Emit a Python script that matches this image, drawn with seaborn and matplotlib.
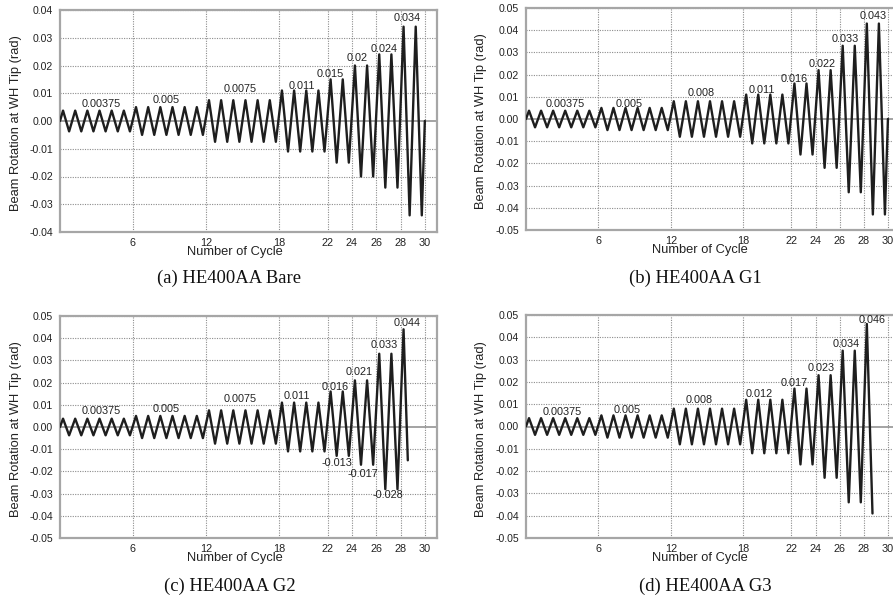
import numpy as np
import pandas as pd
import matplotlib
matplotlib.use("Agg")
import matplotlib.pyplot as plt
import seaborn as sns

# ---------------- data ----------------
counts_full = [6, 6, 6, 4, 2, 2, 2, 2]
counts_last = [6, 6, 6, 4, 2, 2, 2, 1]
counts_trough_last = [6, 6, 6, 4, 2, 2, 2]

# (a) Bare
a_peak_levels = [0.00375, 0.005, 0.0075, 0.011, 0.015, 0.02, 0.024, 0.034]
a_trough_levels = [-0.00375, -0.005, -0.0075, -0.011, -0.015, -0.02, -0.024, -0.034]
a_end = (30.0, 0.0)
a_labels = ["0.00375", "0.005", "0.0075", "0.011", "0.015", "0.02", "0.024", "0.034"]
a_label_x = [3.43, 8.71, 14.8, 19.87, 22.26, 24.4, 26.65, 28.58]
a_label_y = [0.0061, 0.0076, 0.0114, 0.0127, 0.0169, 0.0226, 0.0258, 0.037]

# (b) G1
b_peak_levels = [0.00375, 0.005, 0.008, 0.011, 0.016, 0.022, 0.033, 0.043]
b_trough_levels = [-0.00375, -0.005, -0.008, -0.011, -0.016, -0.022, -0.033, -0.043]
b_end = (30.0, 0.0)
b_labels = ["0.00375", "0.005", "0.008", "0.011", "0.016", "0.022", "0.033", "0.043"]
b_label_x = [3.29, 8.53, 14.5, 19.53, 22.23, 24.58, 26.43, 28.77]
b_label_y = [0.0066, 0.0066, 0.0116, 0.0131, 0.018, 0.0248, 0.0359, 0.0465]

# (c) G2
c_peak_levels = [0.00375, 0.005, 0.0075, 0.011, 0.016, 0.021, 0.033, 0.044]
c_trough_levels = [-0.00375, -0.005, -0.0075, -0.011, -0.013, -0.017, -0.028]
c_end = (28.6, -0.015)
c_labels = ["0.00375", "0.005", "0.0075", "0.011", "0.016", "0.021", "0.033", "0.044",
            "-0.013", "-0.017", "-0.028"]
c_label_x = [3.43, 8.71, 14.8, 19.5, 22.6, 24.6, 26.65, 28.52, 22.8, 24.87, 26.93]
c_label_y = [0.0072, 0.008, 0.0125, 0.0141, 0.0179, 0.0248, 0.0369, 0.047,
             -0.0161, -0.0212, -0.0306]

# (d) G3
d_peak_levels = [0.00375, 0.005, 0.008, 0.012, 0.017, 0.023, 0.034, 0.046]
d_trough_levels = [-0.00375, -0.005, -0.008, -0.012, -0.017, -0.023, -0.034]
d_end = (28.72, -0.039)
d_labels = ["0.00375", "0.005", "0.008", "0.012", "0.017", "0.023", "0.034", "0.046"]
d_label_x = [3.02, 8.36, 14.37, 19.35, 22.2, 24.5, 26.55, 28.65]
d_label_y = [0.0064, 0.0073, 0.0119, 0.0144, 0.0196, 0.0261, 0.0371, 0.0478]

x_ticks = [6, 12, 18, 22, 24, 26, 28, 30]
captions = ["(a) HE400AA Bare", "(b) HE400AA G1", "(c) HE400AA G2", "(d) HE400AA G3"]


def build_series(peak_levels, peak_counts, trough_levels, trough_counts, end):
    peaks = np.repeat(peak_levels, peak_counts)
    troughs = np.repeat(trough_levels, trough_counts)
    xs, ys = [0.0], [0.0]
    for i in range(len(peaks)):
        xs.append(i + 0.25)
        ys.append(peaks[i])
        if i < len(troughs):
            xs.append(i + 0.75)
            ys.append(troughs[i])
    xs.append(end[0])
    ys.append(end[1])
    return pd.DataFrame({"cycle": xs, "rotation": ys})


panels = [
    dict(df=build_series(a_peak_levels, counts_full, a_trough_levels, counts_full, a_end),
         labels=a_labels, lx=a_label_x, ly=a_label_y, ylim=0.04,
         rect=[60 / 893, 1 - 232 / 600, 377 / 893, 222 / 600], cap=(229, 278)),
    dict(df=build_series(b_peak_levels, counts_full, b_trough_levels, counts_full, b_end),
         labels=b_labels, lx=b_label_x, ly=b_label_y, ylim=0.05,
         rect=[526 / 893, 1 - 230 / 600, 374 / 893, 222 / 600], cap=(695, 278)),
    dict(df=build_series(c_peak_levels, counts_last, c_trough_levels, counts_trough_last, c_end),
         labels=c_labels, lx=c_label_x, ly=c_label_y, ylim=0.05,
         rect=[60 / 893, 1 - 538 / 600, 377 / 893, 222 / 600], cap=(230, 586)),
    dict(df=build_series(d_peak_levels, counts_last, d_trough_levels, counts_trough_last, d_end),
         labels=d_labels, lx=d_label_x, ly=d_label_y, ylim=0.05,
         rect=[526 / 893, 1 - 538 / 600, 374 / 893, 223 / 600], cap=(705, 586)),
]

sns.set_style("white")
plt.rcParams["font.family"] = ["Liberation Sans", "DejaVu Sans"]

fig = plt.figure(figsize=(8.93, 6.0), dpi=100)
fig.patch.set_facecolor("white")

spine_col = "#a6a6a6"
grid_col = "#8c8c8c"

for k, p in enumerate(panels):
    ax = fig.add_axes(p["rect"])
    ax.set_xlim(0, 31)
    ax.set_ylim(-p["ylim"], p["ylim"])
    yt = np.round(np.arange(-p["ylim"], p["ylim"] + 1e-9, 0.01), 2)
    ax.set_yticks(yt)
    ax.set_yticklabels([f"{v:.2f}" for v in yt])
    ax.set_xticks(x_ticks)
    ax.set_xticklabels([str(t) for t in x_ticks])
    for t in x_ticks:
        ax.axvline(t, color=grid_col, lw=0.8, ls=(0, (1, 1.2)), zorder=1)
    for v in yt:
        if abs(v) < 1e-9:
            ax.axhline(v, color="#8a8a8a", lw=1.1, ls="-", zorder=1)
        else:
            ax.axhline(v, color=grid_col, lw=0.8, ls=(0, (1, 1.2)), zorder=1)

    sns.lineplot(data=p["df"], x="cycle", y="rotation", sort=False, estimator=None,
                 color="#1e1e1e", lw=1.7, ax=ax, zorder=3)

    for txt, tx, ty in zip(p["labels"], p["lx"], p["ly"]):
        ax.text(tx, ty, txt, ha="center", va="center", fontsize=7.8,
                color="#222222", zorder=4)

    for s in ax.spines.values():
        s.set_color(spine_col)
        s.set_linewidth(1.6)
        s.set_visible(True)
    ax.tick_params(axis="y", labelsize=7.6, length=3, width=0.8, color=spine_col,
                   pad=2, labelcolor="#222222")
    ax.tick_params(axis="x", labelsize=7.8, length=2, width=0.8, color=spine_col,
                   pad=2, labelcolor="#222222")
    ax.set_xlabel("Number of Cycle", fontsize=9.3, color="#222222")
    ax.set_ylabel("Beam Rotation at WH Tip (rad)", fontsize=9.3, color="#222222")
    if k % 2 == 0:
        ax.yaxis.set_label_coords(-0.1, 0.49)
    else:
        ax.yaxis.set_label_coords(-0.104, 0.49)
    ax.xaxis.set_label_coords(0.464, -0.063)

    fig.text(p["cap"][0] / 893, 1 - p["cap"][1] / 600, captions[k],
             ha="center", va="center", fontsize=13.4,
             family=["Liberation Serif", "DejaVu Serif"], color="#111111")

fig.savefig("out.png", dpi=100, facecolor="white")
